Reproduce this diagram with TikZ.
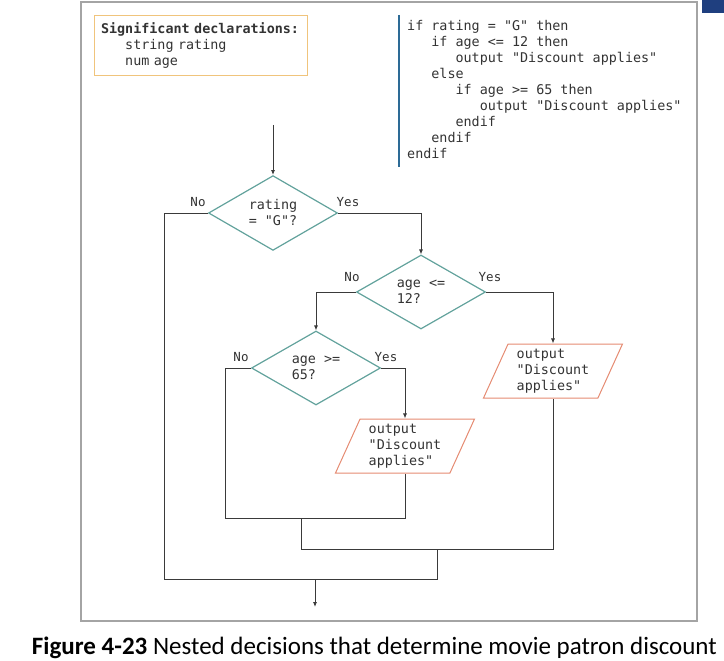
\documentclass[tikz,border=0pt]{standalone}
\usepackage{fontspec}
\newfontfamily\codefont{DejaVu Sans Mono}
\newfontfamily\capfont{Carlito}
\usetikzlibrary{shapes.geometric,arrows.meta}
\definecolor{framegray}{HTML}{A4A4A4}
\definecolor{navyblock}{HTML}{1F3F7F}
\definecolor{declorange}{HTML}{F0C47C}
\definecolor{barblue}{HTML}{2D6B96}
\definecolor{diamondteal}{HTML}{62A29C}
\definecolor{outsalmon}{HTML}{E58B72}
\definecolor{flowgray}{HTML}{3A3A3A}
\definecolor{textgray}{HTML}{333333}
\newcommand{\codetab}{\hspace*{24.2pt}}
\tikzset{
  codetext/.style={font=\codefont\fontsize{13.4}{16}\selectfont, text=textgray},
  flowline/.style={draw=flowgray, line width=0.8pt},
  flowarrow/.style={flowline, -{Latex[length=5pt,width=4pt]}},
  decision/.style={diamond, draw=diamondteal, line width=1.2pt, minimum width=129pt,
    minimum height=74pt, inner sep=0pt, align=left, codetext},
  outbox/.style={trapezium, trapezium left angle=63, trapezium right angle=117,
    trapezium stretches body, draw=outsalmon, line width=1pt, minimum width=139pt,
    minimum height=54pt, inner sep=2pt, align=left, codetext},
  answer/.style={inner sep=0pt, font=\codefont\fontsize{12.5}{15}\selectfont, text=textgray}
}
\begin{document}
\begin{tikzpicture}[x=1pt,y=-1pt]
  \useasboundingbox (0,0) rectangle (724,661);
  \draw[framegray, line width=2pt] (81,2) rectangle (697,621);
  \fill[navyblock] (702,0) rectangle (724,13);

  % declarations and pseudocode
  \node[anchor=north west, draw=declorange, line width=1pt, text width=200pt, inner xsep=6.5pt,
    inner ysep=5pt, minimum height=60pt, align=left, codetext] (decls) at (94,15)
    {\textbf{Significant declarations:}\\\codetab string rating\\\codetab num age};
  \draw[barblue, line width=2.5pt] (399,15) -- (399,167);
  \node[anchor=north west, inner sep=0pt, align=left, codetext] (pseudo) at (407,20)
    {if rating = "G" then\\
     \codetab if age <= 12 then\\
     \codetab\codetab output "Discount applies"\\
     \codetab else\\
     \codetab\codetab if age >= 65 then\\
     \codetab\codetab\codetab output "Discount applies"\\
     \codetab\codetab endif\\
     \codetab endif\\
     endif};

  % flowchart
  \node[decision] (rating) at (273,213) {rating\\= "G"?};
  \node[decision] (young) at (421,292) {age <=\\12?};
  \node[decision] (senior) at (316,368) {age >=\\65?};
  \node[outbox] (outa) at (553,371) {output\\"Discount\\applies"};
  \node[outbox] (outb) at (405,446) {output\\"Discount\\applies"};

  \node[answer] at (198,202) {No};
  \node[answer] at (348,202) {Yes};
  \node[answer] at (352,277) {No};
  \node[answer] at (490,277) {Yes};
  \node[answer] at (241,357) {No};
  \node[answer] at (386,357) {Yes};

  \coordinate (entry) at (273,125);
  \coordinate (ratingno) at (164,579);
  \coordinate (seniorno) at (225,518);
  \coordinate (joina) at (301,518);
  \coordinate (joinab) at (301,549);
  \coordinate (joinb) at (437,549);
  \coordinate (joinc) at (315,579);
  \coordinate (exit) at (315,607);

  \draw[flowarrow] (entry) -- (rating.north);
  \draw[flowarrow] (rating.east) -| (young.north);
  \draw[flowarrow] (young.west) -| (senior.north);
  \draw[flowarrow] (young.east) -| (outa.north);
  \draw[flowarrow] (senior.east) -| (outb.north);
  \draw[flowline] (senior.west) -| (seniorno) -| (outb.south);
  \draw[flowline] (joina) -- (joinab) -| (outa.south);
  \draw[flowline] (rating.west) -| (ratingno) -| (joinb);
  \draw[flowarrow] (joinc) -- (exit);

  \node[anchor=base east, inner sep=0pt, font=\capfont\fontsize{25}{30}\selectfont] (caption)
    at (717,654) {\textbf{Figure 4-23} Nested decisions that determine movie patron discount};
\end{tikzpicture}
\end{document}
